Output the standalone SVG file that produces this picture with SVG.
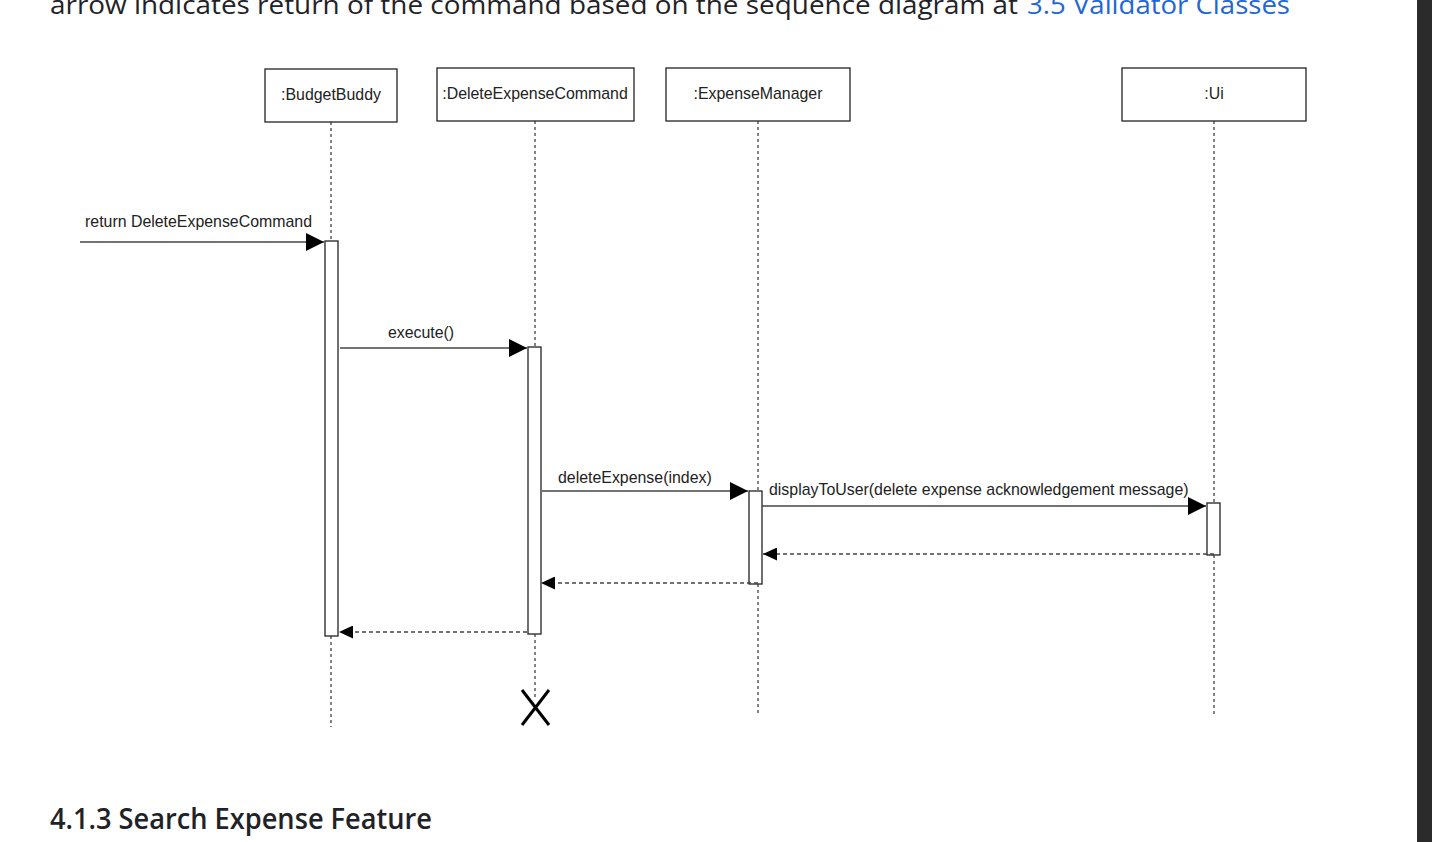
<svg xmlns="http://www.w3.org/2000/svg" width="1432" height="842" viewBox="0 0 1432 842">
<style>
.page{font-family:"Open Sans","Noto Sans","DejaVu Sans",sans-serif;}
.lbl{font-family:"Liberation Sans",Arial,sans-serif;font-size:15.9px;fill:#222;}
.box{fill:#fff;stroke:#222;stroke-width:1.3;}
.act{fill:#fff;stroke:#222;stroke-width:1.3;}
.life{stroke:#333;stroke-width:1.2;stroke-dasharray:3 3;fill:none;}
.msg{stroke:#444;stroke-width:1.6;fill:none;}
.ret{stroke:#444;stroke-width:1.4;stroke-dasharray:4 3;fill:none;}
</style>
<defs>
<marker id="solid" markerWidth="18" markerHeight="18" viewBox="0 0 18 18" refX="18" refY="9" orient="auto" markerUnits="userSpaceOnUse">
<path d="M0,0 L18,9 L0,18 Z" fill="#000"/>
</marker>
<marker id="open" markerWidth="14" markerHeight="13" viewBox="0 0 14 13" refX="14" refY="6.5" orient="auto" markerUnits="userSpaceOnUse">
<path d="M0,0 L14,6.5 L0,13 Z" fill="#000"/>
</marker>
</defs>
<rect x="0" y="0" width="1432" height="842" fill="#fff"/>
<rect x="1417" y="0" width="15" height="842" fill="#2b2b2b"/>
<text class="page" x="50" y="14" font-size="26" fill="#1f2328" textLength="968" lengthAdjust="spacingAndGlyphs">arrow indicates return of the command based on the sequence diagram at</text>
<text class="page" x="1027" y="14" font-size="26" fill="#1f66d6" textLength="263" lengthAdjust="spacingAndGlyphs">3.5 Validator Classes</text>
<text class="page" x="50" y="829" font-size="28" font-weight="600" fill="#1f2328" textLength="382" lengthAdjust="spacingAndGlyphs">4.1.3 Search Expense Feature</text>

<g id="lifelines">
<path class="life" d="M331,122 V241 M331,636 V727"/>
<path class="life" d="M535,121 V347 M535,634 V700"/>
<path class="life" d="M758,121 V491 M758,584 V716"/>
<path class="life" d="M1214,121 V503 M1214,555 V716"/>
</g>

<g id="budgetbuddy">
<rect class="box" x="265" y="69" width="132" height="53"/>
<text class="lbl" x="331" y="100" text-anchor="middle">:BudgetBuddy</text>
<rect class="act" x="325" y="241" width="13" height="395"/>
</g>
<g id="deleteexpensecommand">
<rect class="box" x="437" y="68" width="197" height="53"/>
<text class="lbl" x="535" y="99" text-anchor="middle">:DeleteExpenseCommand</text>
<rect class="act" x="528" y="347" width="13" height="287"/>
<path d="M522,690 L549,725 M549,690 L522,725" stroke="#000" stroke-width="3" fill="none"/>
</g>
<g id="expensemanager">
<rect class="box" x="666" y="68" width="184" height="53"/>
<text class="lbl" x="758" y="99" text-anchor="middle">:ExpenseManager</text>
<rect class="act" x="749" y="491" width="13" height="93"/>
</g>
<g id="ui">
<rect class="box" x="1122" y="68" width="184" height="53"/>
<text class="lbl" x="1214" y="99" text-anchor="middle">:Ui</text>
<rect class="act" x="1207" y="503" width="13" height="52"/>
</g>

<g id="connectors">
<line class="msg" x1="80" y1="242" x2="324" y2="242" marker-end="url(#solid)"/>
<text class="lbl" x="85" y="227">return DeleteExpenseCommand</text>
<line class="msg" x1="340" y1="348" x2="527" y2="348" marker-end="url(#solid)"/>
<text class="lbl" x="421" y="338" text-anchor="middle">execute()</text>
<line class="msg" x1="542" y1="491" x2="748" y2="491" marker-end="url(#solid)"/>
<text class="lbl" x="558" y="483">deleteExpense(index)</text>
<line class="msg" x1="762" y1="506" x2="1206" y2="506" marker-end="url(#solid)"/>
<text class="lbl" x="769" y="495">displayToUser(delete expense acknowledgement message)</text>
<line class="ret" x1="1214" y1="554" x2="763" y2="554" marker-end="url(#open)"/>
<line class="ret" x1="758" y1="583" x2="541" y2="583" marker-end="url(#open)"/>
<line class="ret" x1="527" y1="632" x2="339" y2="632" marker-end="url(#open)"/>
</g>
</svg>
